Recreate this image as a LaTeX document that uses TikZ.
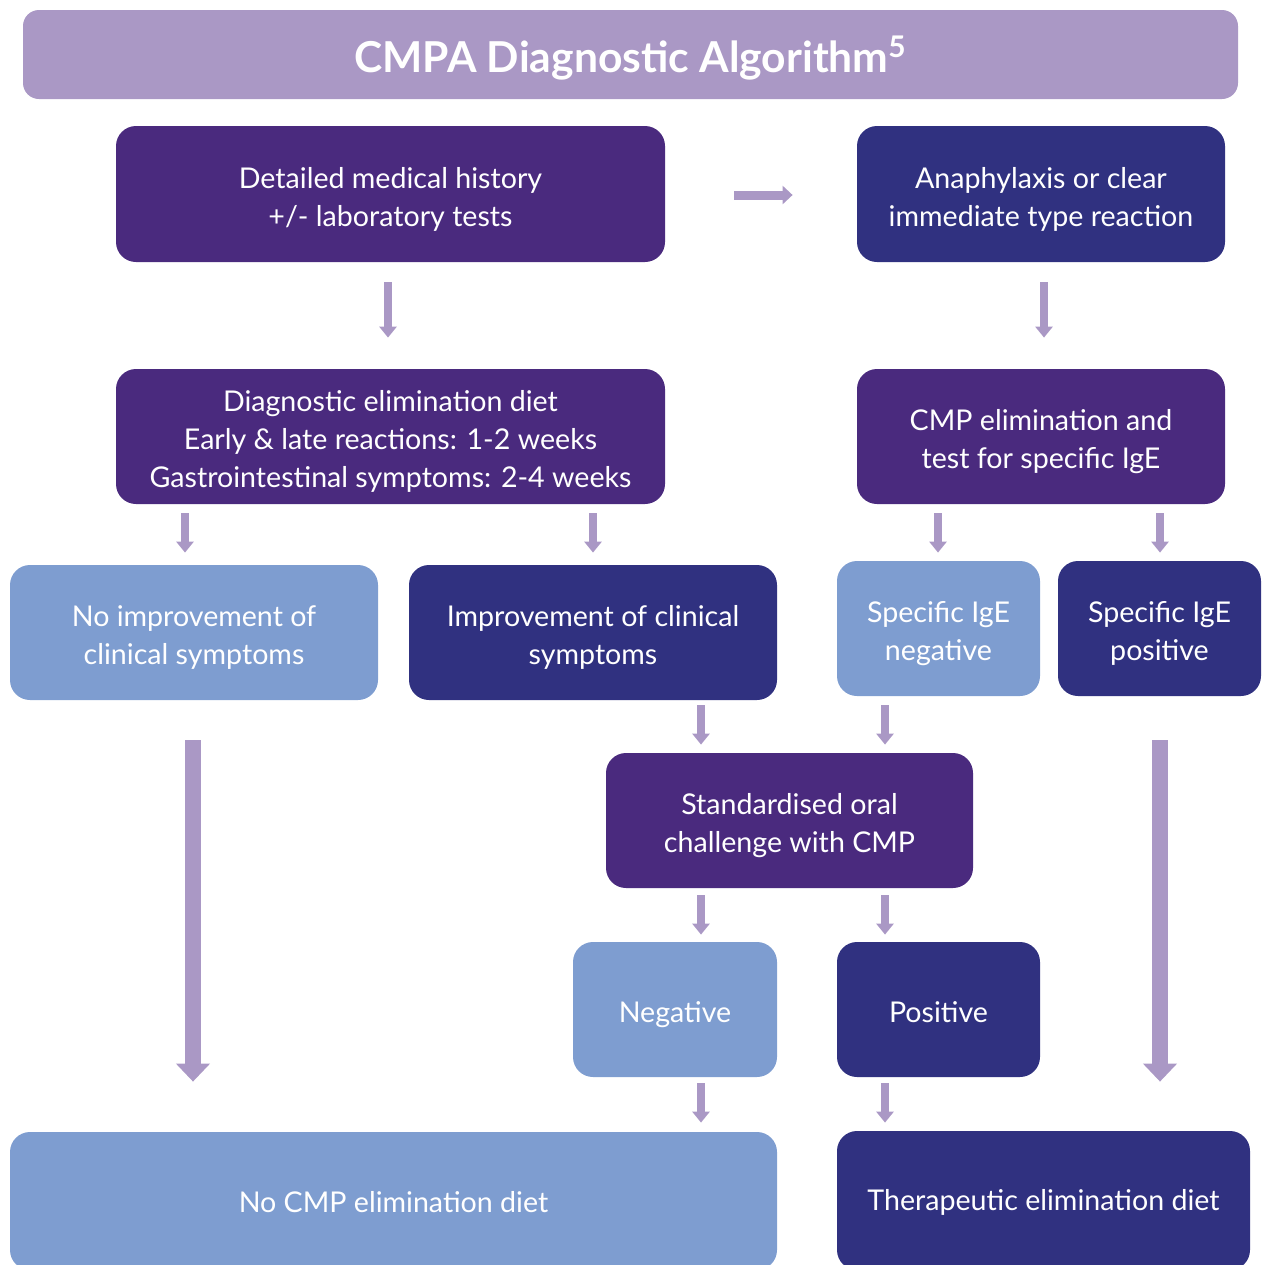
\documentclass[tikz,border=0pt]{standalone}
\usepackage{fontspec}
\setmainfont{Lato}
\usetikzlibrary{arrows.meta,calc}
\definecolor{lav}{HTML}{AA98C5}
\definecolor{dpur}{HTML}{4A2A7E}
\definecolor{navy}{HTML}{303180}
\definecolor{lblue}{HTML}{7E9DD0}
\tikzset{
  box/.style={rounded corners=10pt, inner sep=0pt},
  bpur/.style={box, fill=dpur},
  bnavy/.style={box, fill=navy},
  blue/.style={box, fill=lblue},
  lbl/.style={align=center, text=white, inner sep=0pt,
    font=\fontsize{14.3}{19}\selectfont},
  sarr/.style={draw=lav, line width=4pt, -{Triangle[width=8.5pt,length=5.5pt]}},
  harr/.style={draw=lav, line width=4.5pt, -{Triangle[width=9pt,length=5pt]}},
  barr/.style={draw=lav, line width=8pt, -{Triangle[width=16.5pt,length=9pt]}},
}
\begin{document}
\begin{tikzpicture}[x=0.5pt,y=-0.5pt]
\useasboundingbox (0,0) rectangle (1268,1264);
\clip (0,0) rectangle (1268,1264);
% header
\node[rounded corners=8pt, fill=lav, minimum width=607.5pt, minimum height=44.5pt] (T) at (630.5,54.5) {};
\node[text=white, inner sep=0pt, font=\fontsize{21.3}{26}\selectfont\bfseries] (Tt) at ([yshift=-2pt]T.center) {CMPA Diagnostic Algorithm\textsuperscript{5}};
% boxes
\node[bpur, minimum width=274.5pt, minimum height=68pt] (A) at (390.5,194) {};
\node[bnavy, minimum width=184pt, minimum height=68pt] (B) at (1041,194) {};
\node[bpur, minimum width=274.5pt, minimum height=67.5pt] (C) at (390.5,436.5) {};
\node[bpur, minimum width=184pt, minimum height=67.5pt] (D) at (1041,436.5) {};
\node[blue, minimum width=184pt, minimum height=67.5pt] (E) at (194,632.5) {};
\node[bnavy, minimum width=184pt, minimum height=67.5pt] (F) at (593,632.5) {};
\node[blue, minimum width=101.5pt, minimum height=67.5pt] (G) at (938.5,628.5) {};
\node[bnavy, minimum width=101.5pt, minimum height=67.5pt] (H) at (1159.5,628.5) {};
\node[bpur, minimum width=183.5pt, minimum height=67.5pt] (I) at (789.5,820.5) {};
\node[blue, minimum width=102pt, minimum height=67.5pt] (J) at (675,1009.5) {};
\node[bnavy, minimum width=101.5pt, minimum height=67.5pt] (K) at (938.5,1009.5) {};
\node[blue, minimum width=383.5pt, minimum height=69pt] (L) at (393.5,1201) {};
\node[bnavy, minimum width=206.5pt, minimum height=69.5pt] (M) at (1043.5,1200.5) {};
% texts
\node[lbl] (At) at ([yshift=-2.5pt]A.center) {Detailed medical history\\+/- laboratory tests};
\node[lbl] (Bt) at ([yshift=-2.5pt]B.center) {Anaphylaxis or clear\\immediate type reaction};
\node[lbl] (Ct) at ([yshift=-2.5pt]C.center) {Diagnostic elimination diet\\Early \& late reactions: 1-2 weeks\\Gastrointestinal symptoms: 2-4 weeks};
\node[lbl] (Dt) at ([yshift=-2.5pt]D.center) {CMP elimination and\\test for specific IgE};
\node[lbl] (Et) at ([yshift=-2.5pt]E.center) {No improvement of\\clinical symptoms};
\node[lbl] (Ft) at ([yshift=-2.5pt]F.center) {Improvement of clinical\\symptoms};
\node[lbl] (Gt) at ([yshift=-2.5pt]G.center) {Specific IgE\\negative};
\node[lbl] (Ht) at ([yshift=-2.5pt]H.center) {Specific IgE\\positive};
\node[lbl] (It) at ([yshift=-2.5pt]I.center) {Standardised oral\\challenge with CMP};
\node[lbl] (Jt) at ([yshift=-2.5pt]J.center) {Negative};
\node[lbl] (Kt) at ([yshift=-1.2pt]K.center) {Positive};
\node[lbl] (Lt) at ([yshift=-0.3pt]L.center) {No CMP elimination diet};
\node[lbl] (Mt) at ([yshift=-1.2pt]M.center) {Therapeutic elimination diet};
% connectors
\draw[harr] ($(A.east)+(69,1)$) -- ($(B.west)+(-64,1)$);
\draw[sarr] ($(A.south)+(-2.5,20)$) -- ($(C.north)+(-2.5,-31)$);
\draw[sarr] ($(B.south)+(3,20)$) -- ($(D.north)+(3,-31)$);
\draw[sarr] ($(C.south)+(-205.5,9)$) -- ($(E.north)+(-9,-12)$);
\draw[sarr] ($(C.south)+(202.5,9)$) -- ($(F.north)+(0,-12)$);
\draw[sarr] ($(D.south)+(-103,9)$) -- ($(G.north)+(-0.5,-8)$);
\draw[sarr] ($(D.south)+(119,9)$) -- ($(H.north)+(0.5,-8)$);
\draw[sarr] ($(F.south)+(108,5)$) -- ($(I.north)+(-88.5,-8)$);
\draw[sarr] ($(G.south)+(-53.5,9)$) -- ($(I.north)+(95.5,-8)$);
\draw[sarr] ($(I.south)+(-88.5,7)$) -- ($(J.north)+(26,-7)$);
\draw[sarr] ($(I.south)+(95.5,7)$) -- ($(K.north)+(-53.5,-7)$);
\draw[sarr] ($(J.south)+(26,6)$) -- ($(L.north)+(307.5,-9)$);
\draw[sarr] ($(K.south)+(-53.5,6)$) -- ($(M.north)+(-158.5,-8)$);
\draw[barr] ($(E.south)+(-1,40)$) -- ($(L.north)+(-200.5,-50)$);
\draw[barr] ($(H.south)+(0.5,44)$) -- ($(M.north)+(116.5,-49)$);
\end{tikzpicture}
\end{document}
